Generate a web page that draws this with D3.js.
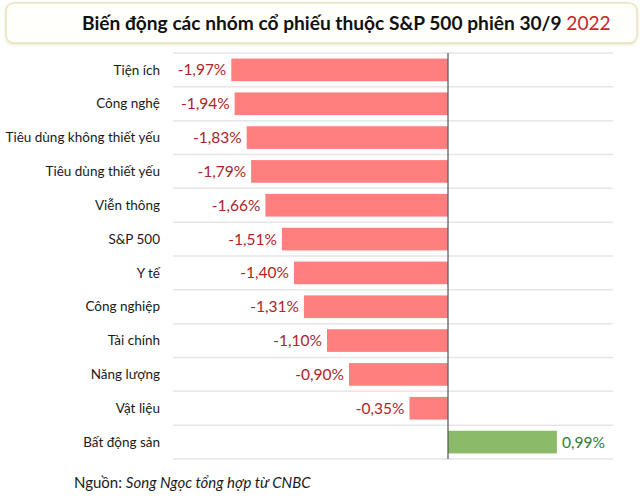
<!DOCTYPE html>
<html>
<head>
<meta charset="utf-8">
<script src="https://cdn.jsdelivr.net/npm/d3@7"></script>
<style>
  body { margin: 0; background: #fff; }
  svg { font-family: Lato, "Open Sans", sans-serif; }
</style>
</head>
<body>
<div id="chart"></div>
<script>
const categories = [
  "Tiện ích", "Công nghệ", "Tiêu dùng không thiết yếu", "Tiêu dùng thiết yếu",
  "Viễn thông", "S&P 500", "Y tế", "Công nghiệp", "Tài chính",
  "Năng lượng", "Vật liệu", "Bất động sản"
];
const changes = [-1.97, -1.94, -1.83, -1.79, -1.66, -1.51, -1.40, -1.31, -1.10, -0.90, -0.35, 0.99];
const titleMain = "Biến động các nhóm cổ phiếu thuộc S&P 500 phiên 30/9 ";
const titleYear = "2022";
const sourceLabel = "Nguồn: ";
const sourceText = "Song Ngọc tổng hợp từ CNBC";

const width = 643, height = 500;
const svg = d3.select("#chart").append("svg")
  .attr("width", width)
  .attr("height", height);

// title box
const defs = svg.append("defs");
const shadow = defs.append("filter").attr("id", "shadow")
  .attr("x", "-5%").attr("y", "-20%").attr("width", "110%").attr("height", "150%");
shadow.append("feDropShadow")
  .attr("dx", 0).attr("dy", 1).attr("stdDeviation", 1.5)
  .attr("flood-color", "#d8d2b0").attr("flood-opacity", 0.6);

svg.append("rect")
  .attr("x", 6).attr("y", 3)
  .attr("width", 631).attr("height", 40)
  .attr("rx", 8)
  .attr("fill", "#fffffc")
  .attr("stroke", "#ece4bd")
  .attr("stroke-width", 1.5)
  .attr("filter", "url(#shadow)");

const title = svg.append("text")
  .attr("x", 82).attr("y", 30)
  .attr("font-size", 20)
  .attr("font-weight", 700)
  .attr("fill", "#111");
title.append("tspan").text(titleMain);
title.append("tspan").attr("fill", "#c62828").attr("font-weight", 400).text(titleYear);
// fit the title to the width seen in the picture
const tw = title.node().getComputedTextLength();
if (tw > 0) title.attr("font-size", 20 * 529 / tw);

// scales
const x = d3.scaleLinear().domain([-2.5, 1.5]).range([173, 613]);
const y = d3.scaleBand().domain(categories).range([53, 459]).paddingInner(0.33).paddingOuter(0.165);
const rows = d3.scaleBand().domain(categories).range([53, 459]);

// gridlines between rows
const gridYs = categories.map(c => rows(c)).concat([rows.range()[1]]);
svg.append("g").selectAll("line")
  .data(gridYs)
  .join("line")
  .attr("x1", x.range()[0]).attr("x2", x.range()[1])
  .attr("y1", d => d).attr("y2", d => d)
  .attr("stroke", "#e6e6e6")
  .attr("stroke-width", 1.5);

// bars
svg.append("g").selectAll("rect")
  .data(changes)
  .join("rect")
  .attr("x", d => x(Math.min(0, d)))
  .attr("y", (d, i) => y(categories[i]))
  .attr("width", d => Math.abs(x(d) - x(0)))
  .attr("height", y.bandwidth())
  .attr("fill", d => d < 0 ? "#ff7f7f" : "#8bbb69");

// zero line
svg.append("line")
  .attr("x1", x(0)).attr("x2", x(0))
  .attr("y1", rows.range()[0]).attr("y2", rows.range()[1])
  .attr("stroke", "#555")
  .attr("stroke-width", 1.2);

// category labels
svg.append("g").selectAll("text")
  .data(categories)
  .join("text")
  .attr("x", 160)
  .attr("y", d => rows(d) + rows.bandwidth() / 2)
  .attr("dy", "0.35em")
  .attr("text-anchor", "end")
  .attr("font-size", 13.5)
  .attr("fill", "#1a1a1a")
  .text(d => d);

// value labels
const fmt = v => d3.format(".2f")(v).replace("−", "-").replace(".", ",") + "%";
svg.append("g").selectAll("text")
  .data(changes)
  .join("text")
  .attr("x", d => d < 0 ? x(d) - 5 : x(d) + 5)
  .attr("y", (d, i) => rows(categories[i]) + rows.bandwidth() / 2)
  .attr("dy", "0.35em")
  .attr("text-anchor", d => d < 0 ? "end" : "start")
  .attr("font-size", 15.5)
  .attr("fill", d => d < 0 ? "#ad2429" : "#2e7d32")
  .text(fmt);

// source
const src = svg.append("text")
  .attr("x", 74).attr("y", 488)
  .attr("font-size", 15)
  .attr("fill", "#1a1a1a");
src.append("tspan").text(sourceLabel);
src.append("tspan").attr("font-style", "italic").text(sourceText);
</script>
</body>
</html>
